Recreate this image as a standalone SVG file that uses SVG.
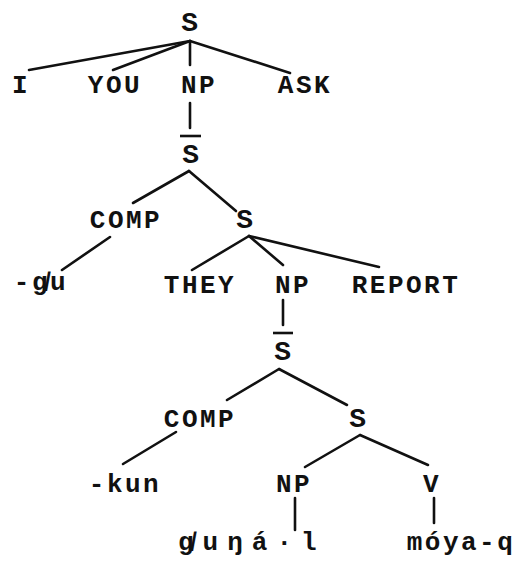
<svg xmlns="http://www.w3.org/2000/svg" width="517" height="561" viewBox="0 0 517 561">
  <style>
    .lbl { font-family: "Liberation Mono", "DejaVu Sans Mono", monospace; font-size: 26px; font-weight: bold; letter-spacing: 2.5px; fill: #111; text-anchor: middle; }
    .big { font-size: 28px; }
    .wide { letter-spacing: 9px; text-anchor: start; }
    .edge { stroke: #111; stroke-width: 2.6; stroke-linecap: round; fill: none; }
    .bar { stroke: #111; stroke-width: 2.6; fill: none; }
  </style>
  <rect width="517" height="561" fill="#ffffff"/>

  <!-- tree branches -->
  <g id="connectors" class="edge">
    <line x1="190" y1="41" x2="29" y2="70"/>
    <line x1="190" y1="41" x2="113" y2="70"/>
    <line x1="190" y1="41" x2="190" y2="65"/>
    <line x1="190" y1="41" x2="290" y2="73"/>
    <line x1="190" y1="103" x2="190" y2="128"/>
    <line x1="189" y1="171" x2="133" y2="203"/>
    <line x1="189" y1="171" x2="236" y2="211"/>
    <line x1="110" y1="237" x2="62" y2="270"/>
    <line x1="249" y1="236" x2="192" y2="270"/>
    <line x1="249" y1="236" x2="283" y2="265"/>
    <line x1="249" y1="236" x2="379" y2="267"/>
    <line x1="283" y1="300" x2="283" y2="325"/>
    <line x1="279" y1="369" x2="227" y2="400"/>
    <line x1="279" y1="369" x2="347" y2="405"/>
    <line x1="176" y1="432" x2="123" y2="464"/>
    <line x1="360" y1="435" x2="305" y2="467"/>
    <line x1="360" y1="435" x2="428" y2="465"/>
    <line x1="295" y1="498" x2="295" y2="530"/>
    <line x1="434" y1="498" x2="434" y2="523"/>
  </g>

  <!-- top clause -->
  <g id="s-root"><text class="lbl big" x="191" y="31">S</text></g>
  <g id="i"><text class="lbl" x="21" y="93">I</text></g>
  <g id="you"><text class="lbl" x="115" y="93">YOU</text></g>
  <g id="np-1"><text class="lbl" x="199" y="93">NP</text></g>
  <g id="ask"><text class="lbl" x="305" y="93">ASK</text></g>

  <!-- first embedded S-bar -->
  <g id="sbar-1">
    <line class="bar" x1="180" y1="136" x2="201" y2="136"/>
    <text class="lbl big" x="192" y="163">S</text>
  </g>
  <g id="comp-1"><text class="lbl" x="126" y="228">COMP</text></g>
  <g id="s-1"><text class="lbl big" x="246" y="228">S</text></g>
  <g id="su"><text class="lbl" x="41" y="290">-g&#x338;u</text></g>
  <g id="they"><text class="lbl" x="200" y="293">THEY</text></g>
  <g id="np-2"><text class="lbl" x="293" y="293">NP</text></g>
  <g id="report"><text class="lbl" x="406" y="293">REPORT</text></g>

  <!-- second embedded S-bar -->
  <g id="sbar-2">
    <line class="bar" x1="273" y1="333" x2="293" y2="333"/>
    <text class="lbl big" x="284" y="360">S</text>
  </g>
  <g id="comp-2"><text class="lbl" x="200" y="427">COMP</text></g>
  <g id="s-2"><text class="lbl big" x="359" y="427">S</text></g>
  <g id="kun"><text class="lbl" x="125" y="492">-kun</text></g>
  <g id="np-3"><text class="lbl" x="294" y="492">NP</text></g>
  <g id="v"><text class="lbl" x="432" y="492">V</text></g>
  <g id="sunal"><text class="lbl wide" x="178" y="550">g&#x338;uŋá·l</text></g>
  <g id="moyaq"><text class="lbl" x="461" y="550">móya-q</text></g>
</svg>
